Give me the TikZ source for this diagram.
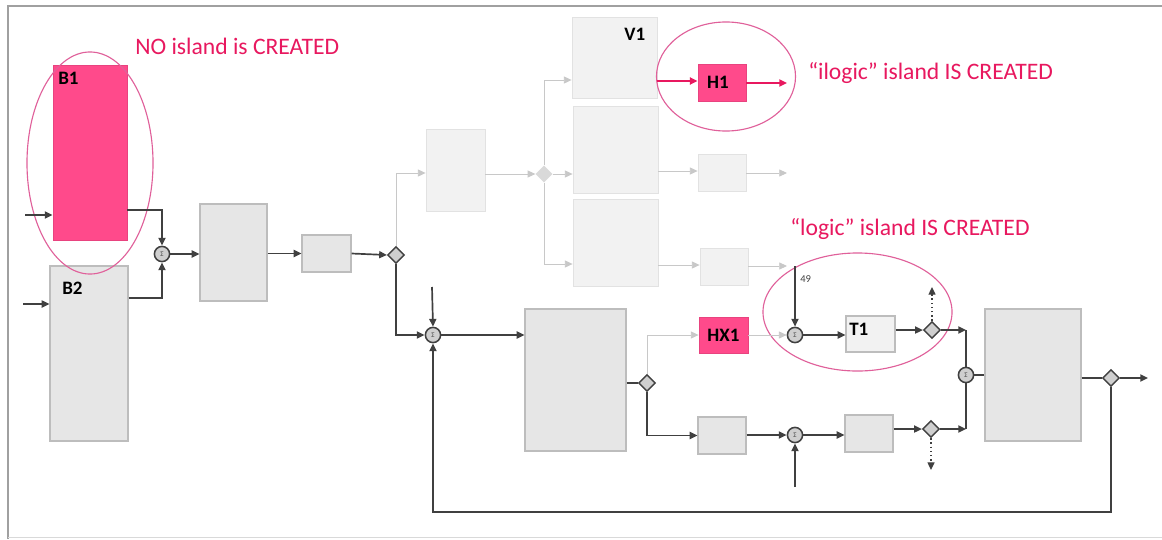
\documentclass[tikz,border=0pt]{standalone}
\usepackage{fontspec}
\setmainfont{Carlito}
\usetikzlibrary{shapes.geometric,arrows.meta}
\definecolor{pinkfill}{HTML}{FF4A8B}
\definecolor{pinkdraw}{HTML}{E8437F}
\definecolor{pinktext}{HTML}{E8185F}
\definecolor{ellcol}{HTML}{E0609A}
\definecolor{grayfill}{HTML}{E6E6E6}
\definecolor{graydraw}{HTML}{BDBDBD}
\definecolor{fadefill}{HTML}{F2F2F2}
\definecolor{fadedraw}{HTML}{E2E2E2}
\definecolor{fadeline}{HTML}{C8C8C8}
\definecolor{darkline}{HTML}{404040}
\definecolor{frame}{HTML}{A0A0A0}
\tikzset{
  bx/.style 2 args={rectangle, inner sep=0pt, minimum width=#1*0.025cm, minimum height=#2*0.025cm},
  graybox/.style={fill=grayfill, draw=graydraw, line width=0.8pt},
  fadebox/.style={fill=fadefill, draw=fadedraw, line width=0.6pt},
  pinkbox/.style={fill=pinkfill, draw=pinkdraw, line width=0.6pt},
  sumnode/.style={circle, inner sep=0pt, minimum size=0.38cm, fill=grayfill!90!black, draw=darkline, line width=1.1pt, font=\fontsize{5}{5}\selectfont, text=darkline},
  dia/.style={diamond, inner sep=0pt, minimum width=0.42cm, minimum height=0.42cm, fill=grayfill!90!black, draw=darkline, line width=1pt},
  fdia/.style={diamond, inner sep=0pt, minimum width=0.42cm, minimum height=0.42cm, fill=fadeline!70!white, draw=none},
  arr/.style={draw=darkline, line width=1.2pt, -{Triangle[length=5.5pt,width=5pt]}},
  ln/.style={draw=darkline, line width=1.2pt},
  darr/.style={draw=darkline, line width=1pt, dotted, -{Triangle[length=5.5pt,width=5pt]}},
  farr/.style={draw=fadeline, line width=0.6pt, -{Triangle[length=5.5pt,width=5pt]}},
  fln/.style={draw=fadeline, line width=0.6pt},
  parr/.style={draw=pinktext, line width=1.4pt, -{Triangle[length=5.5pt,width=5pt]}},
  ell/.style={draw=ellcol, line width=0.8pt},
  lbl/.style={font=\bfseries\fontsize{13.5}{14}\selectfont, text=black, inner sep=0pt},
  note/.style={font=\fontsize{16.8}{19}\selectfont, text=pinktext, inner sep=0pt, anchor=west},
}
\begin{document}
\begin{tikzpicture}[x=0.025cm, y=-0.025cm]
\useasboundingbox (0,0) rectangle (1162,539);
\fill[white] (0,0) rectangle (1162,539);
\draw[frame, line width=0.8pt] (1162,6) -- (8,6) -- (8,539);
\draw[frame!40, line width=0.6pt] (8,537) -- (1162,537);

% faded upper part
\node[bx={59}{82}, fadebox] (C) at (455.5,170) {};
\node[bx={85}{81}, fadebox] (V1) at (614.5,57.5) {};
\node[bx={85}{87}, fadebox] (V2) at (615.5,149.5) {};
\node[bx={85}{87}, fadebox] (V3) at (615.5,242.5) {};
\node[bx={48}{37}, fadebox] (S2) at (722,172.5) {};
\node[bx={48}{37}, fadebox] (S3) at (724,266.5) {};
\node[fdia] (d6) at (544,174) {};

% main blocks
\node[bx={74}{175}, pinkbox] (B1) at (90,152.5) {};
\node[bx={78}{175}, graybox] (B2) at (89,353.5) {};
\node[bx={67}{97}, graybox] (A) at (233.5,252.5) {};
\node[bx={49}{37}, graybox] (Bk) at (326.5,253.5) {};
\node[bx={101}{142}, graybox] (D) at (575.5,380) {};
\node[bx={48}{37}, pinkbox] (H1) at (722,82.5) {};
\node[bx={49}{36}, pinkbox] (HX1) at (723.5,335) {};
\node[bx={48}{37}, graybox] (E) at (722,435.5) {};
\node[bx={48}{37}, graybox] (F) at (869,433.5) {};
\node[bx={49}{36}, fill=fadefill, draw=graydraw, line width=0.8pt] (T1) at (870.5,334) {};
\node[bx={96}{132}, graybox] (G) at (1033,375) {};

% sums and branch points
\node[sumnode] (s1) at (162,254) {Σ};
\node[sumnode] (s2) at (433,335) {Σ};
\node[sumnode] (s3) at (795,435) {Σ};
\node[sumnode] (s4) at (966,375) {Σ};
\node[sumnode] (s5) at (795,335) {Σ};
\node[dia] (d1) at (396,255) {};
\node[dia] (d2) at (647,383) {};
\node[dia] (d3) at (932,330) {};
\node[dia] (d4) at (931,429) {};
\node[dia] (d5) at (1111,378) {};

% labels
\node[lbl, anchor=west] (lB1) at (58,78) {B1};
\node[lbl, anchor=west] (lB2) at (62,288) {B2};
\node[lbl, anchor=west] (lV1) at (624,34) {V1};
\node[lbl] (lH1) at (718,82) {H1};
\node[lbl] (lHX1) at (HX1) {HX1};
\node[lbl, anchor=west] (lT1) at (849,329) {T1};
\node[font=\fontsize{7.5}{8}\selectfont, text=darkline, inner sep=0pt, anchor=west] (l49) at (800,279) {49};

% notes
\node[note] (n1) at (135,46) {NO island is CREATED};
\node[note] (n2) at (808,73) {“ilogic” island IS CREATED};
\node[note] (n3) at (790,229) {“logic” island IS CREATED};

% ellipses
\draw[ell] (90,163) ellipse [x radius=1.575cm, y radius=2.775cm];
\draw[ell] (726,76.5) ellipse [x radius=1.7375cm, y radius=1.3625cm];
\draw[ell] (857.5,312) ellipse [x radius=2.3625cm, y radius=1.475cm];

% free ends
\coordinate (i1) at (25,215);
\coordinate (i2) at (23,304);
\coordinate (i3) at (432,287);
\coordinate (i4) at (795,487);
\coordinate (i5) at (795,266);
\coordinate (fb) at (1111,512);
\coordinate (o1) at (1148,378);
\coordinate (o2) at (787,83);
\coordinate (o3) at (787,173);
\coordinate (o4) at (787,266);
\coordinate (up3) at (932,287);
\coordinate (dn4) at (931,470);

% faded connectors
\draw[farr] (d1.north) |- (C.west |- 0,173);
\draw[farr] (C.east |- d6) -- (d6.west);
\draw[farr] (d6.east) -- (V2.west |- d6);
\draw[farr] (d6.north) |- (V1.west |- 0,80);
\draw[farr] (d6.south) |- (V3.west |- 0,264);
\draw[farr] (V2.east |- 0,171) -- (S2.west |- 0,171);
\draw[farr] (S2.east |- o3) -- (o3);
\draw[farr] (V3.east |- 0,265) -- (S3.west |- 0,265);
\draw[farr] (S3.east |- o4) -- (o4);
\draw[farr] (d2.north) |- (HX1.west);
\draw[farr] (HX1.east) -- (s5.west);

% pink connectors
\draw[parr] (V1.east |- 0,81) -- (H1.west |- 0,81);
\draw[parr] (H1.east |- o2) -- (o2);

% dark connectors
\draw[arr] (i1) -- (i1 -| B1.west);
\draw[arr] (i2) -- (i2 -| B2.west);
\draw[arr] (B1.east |- 0,210) -| (s1.north);
\draw[arr] (B2.east |- 0,298) -| (s1.south);
\draw[arr] (s1.east) -- (s1 -| A.west);
\draw[arr] (A.east |- Bk) -- (Bk.west);
\draw[arr] (Bk.east) -- (d1.west);
\draw[arr] (d1.south) |- (s2.west);
\draw[arr] (i3) -- (s2.north);
\draw[arr] (d5.south) -- (fb) -| (s2.south);
\draw[arr] (s2.east) -- (s2 -| D.west);
\draw[ln] (D.east |- d2) -- (d2.west);
\draw[arr] (d2.south) |- (E.west);
\draw[arr] (E.east |- s3) -- (s3.west);
\draw[arr] (i4) -- (s3.south);
\draw[arr] (s3.east) -- (s3 -| F.west);
\draw[arr] (F.east |- d4) -- (d4.west);
\draw[darr] (d4.south) -- (dn4);
\draw[arr] (i5) -- (s5.north);
\draw[arr] (s5.east) -- (s5 -| T1.west);
\draw[arr] (T1.east |- d3) -- (d3.west);
\draw[darr] (d3.north) -- (up3);
\draw[arr] (d3.east) -- (s4 |- d3);
\draw[arr] (d4.east) -- (s4 |- d4);
\draw[ln] (s4 |- d3) -- (s4.north);
\draw[ln] (s4 |- d4) -- (s4.south);
\draw[ln] (s4.east) -- (s4 -| G.west);
\draw[ln] (G.east |- d5) -- (d5.west);
\draw[arr] (d5.east) -- (o1);
\end{tikzpicture}
\end{document}
